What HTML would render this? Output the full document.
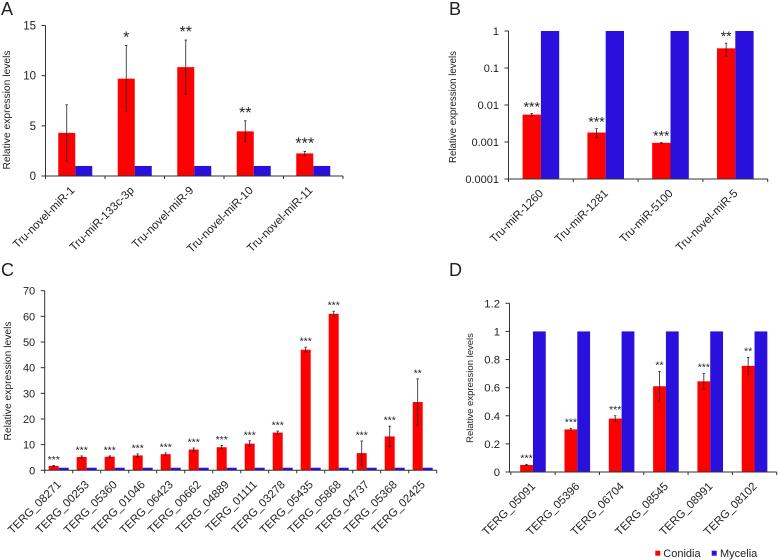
<!DOCTYPE html>
<html>
<head>
<meta charset="utf-8">
<style>
html,body{margin:0;padding:0;background:#fff;}
svg{display:block;filter:blur(0.35px);}
text{font-family:"Liberation Sans",Arial,sans-serif;fill:#222;}
</style>
</head>
<body>
<svg id="fig" width="778" height="560" viewBox="0 0 778 560" xmlns="http://www.w3.org/2000/svg">
  <rect x="0" y="0" width="778" height="560" fill="#fff"/>
  <text x="1" y="15" font-size="18">A</text>
  <text x="449" y="15" font-size="18">B</text>
  <text x="1" y="276" font-size="18">C</text>
  <text x="449" y="276" font-size="18">D</text>
  <g id="panel-a"></g>
  <g id="panel-b"></g>
  <g id="panel-c"></g>
  <g id="panel-d"></g>
  <g>
    <g>
      <rect x="655.3" y="550.7" width="5" height="5" fill="#fe0000"/>
      <text x="663.3" y="557" font-size="11">Conidia</text>
    </g>
    <g>
      <rect x="711.7" y="550.7" width="5" height="5" fill="#2a10dc"/>
      <text x="720" y="557" font-size="11">Mycelia</text>
    </g>
  </g>
</svg>
<script>
var aCategories = ["Tru-novel-miR-1","Tru-miR-133c-3p","Tru-novel-miR-9","Tru-novel-miR-10","Tru-novel-miR-11"];
var aConidia = [4.3,9.7,10.85,4.45,2.25];
var aMycelia = [1,1,1,1,1];
var aErrors = [2.8,3.3,2.7,1.05,0.2];
var aSignificance = ["","*","**","**","***"];
var aTicks = [0,5,10,15];
var aTickLabels = ["0","5","10","15"];

var bCategories = ["Tru-miR-1260","Tru-miR-1281","Tru-miR-5100","Tru-novel-miR-5"];
var bConidia = [0.0055,0.0018,0.00095,0.34];
var bMycelia = [1,1,1,1];
var bErrors = [0.0004,0.0005,0.00002,0.13];
var bSignificance = ["***","***","***","**"];
var bTicks = [0.0001,0.001,0.01,0.1,1];
var bTickLabels = ["0.0001","0.001","0.01","0.1","1"];

var cCategories = ["TERG_08271","TERG_00253","TERG_05360","TERG_01046","TERG_06423","TERG_00662","TERG_04889","TERG_01111","TERG_03278","TERG_05435","TERG_05868","TERG_04737","TERG_05368","TERG_02425"];
var cConidia = [1.7,5.2,5.3,5.8,6.3,8.1,9,10.4,14.7,47,61,6.7,13.2,26.6];
var cMycelia = [1,1,1,1,1,1,1,1,1,1,1,1,1,1];
var cErrors = [0.2,0.4,0.3,0.6,0.5,0.6,0.7,1.1,0.6,1,1,4.7,4,9];
var cSignificance = ["***","***","***","***","***","***","***","***","***","***","***","***","***","**"];
var cTicks = [0,10,20,30,40,50,60,70];
var cTickLabels = ["0","10","20","30","40","50","60","70"];

var dCategories = ["TERG_05091","TERG_05396","TERG_06704","TERG_08545","TERG_08991","TERG_08102"];
var dConidia = [0.05,0.303,0.38,0.61,0.645,0.755];
var dMycelia = [1,1,1,1,1,1];
var dErrors = [0.004,0.008,0.02,0.105,0.055,0.06];
var dSignificance = ["***","***","***","**","***","**"];
var dTicks = [0,0.2,0.4,0.6,0.8,1,1.2];
var dTickLabels = ["0","0.2","0.4","0.6","0.8","1","1.2"];

var NS = "http://www.w3.org/2000/svg";

function make(parent, tag, attrs, content) {
  var el = document.createElementNS(NS, tag);
  for (var k in attrs) { el.setAttribute(k, attrs[k]); }
  if (content !== undefined) { el.textContent = content; }
  parent.appendChild(el);
  return el;
}

function linearScale(min, max, y0, y1) {
  return function (v) { return y0 + (v - min) / (max - min) * (y1 - y0); };
}

function logScale(min, max, y0, y1) {
  return function (v) {
    return y0 + (Math.log(v) - Math.log(min)) / (Math.log(max) - Math.log(min)) * (y1 - y0);
  };
}

function drawPanel(p) {
  var g = document.getElementById(p.id);
  var n = p.categories.length;
  var step = (p.right - p.originX) / n;
  var base = p.yScale(p.ticks[0]);
  var axisColor = "#333";

  function categoryCenter(i) { return p.originX + step * (i + 0.5); }

  p.categories.forEach(function (name, i) {
    var cx = categoryCenter(i);
    var value = p.conidia[i];
    var top = p.yScale(value);
    var red = make(g, "rect", {x: cx - p.barWidth, y: top, width: p.barWidth, height: base - top, fill: "#fe0000"});
    
    

    var blueTop = p.yScale(p.mycelia[i]);
    var blue = make(g, "rect", {x: cx, y: blueTop, width: p.barWidth, height: base - blueTop, fill: "#2a10dc"});
    
    

    var ex = cx - p.barWidth / 2;
    var errTop = p.yScale(value + p.errors[i]);
    var errBottom = p.yScale(value - p.errors[i]);
    var err = make(g, "path", {
      d: "M" + (ex - 1.2) + " " + errTop + "H" + (ex + 1.2) + "M" + ex + " " + errTop + "V" + errBottom + "M" + (ex - 1.2) + " " + errBottom + "H" + (ex + 1.2),
      stroke: "#222", "stroke-width": 0.8, fill: "none"
    });
    
    

    if (p.significance[i]) {
      var star = make(g, "text", {x: ex, y: errTop + p.starOffset, "font-size": p.starSize, "text-anchor": "middle"}, p.significance[i]);
      
      
    }

    var lx = cx + p.labelDx;
    var ly = base + p.labelDy;
    var label = make(g, "text", {x: lx, y: ly, "font-size": 11.4, "text-anchor": "end", transform: "rotate(-45 " + lx + " " + ly + ")"}, name);
    
    
  });

  var yAxis = make(g, "line", {x1: p.axisX, x2: p.axisX, y1: p.yScale(p.ticks[p.ticks.length - 1]), y2: base + 0.5, stroke: axisColor, "stroke-width": 1});
  
  

  var xAxis = make(g, "line", {x1: p.axisX, x2: p.right, y1: base, y2: base, stroke: axisColor, "stroke-width": 1});
  
  

  for (var t = 0; t <= n; t++) {
    var tx = p.originX + step * t;
    var xt = make(g, "line", {x1: tx, x2: tx, y1: base, y2: base + 3, stroke: axisColor, "stroke-width": 1});
    
    
  }

  p.ticks.forEach(function (v, i) {
    var y = p.yScale(v);
    var tick = make(g, "line", {x1: p.axisX - 4, x2: p.axisX, y1: y, y2: y, stroke: axisColor, "stroke-width": 1});
    
    
    var lab = make(g, "text", {x: p.axisX - 9.5, y: y + 4, "font-size": p.tickSize, "text-anchor": "end"}, p.tickLabels[i]);
    
    
  });

  var title = make(g, "text", {x: 0, y: 0, "font-size": p.titleSize, "text-anchor": "middle", transform: "translate(" + p.titleX + " " + p.titleY + ") rotate(-90)"}, "Relative expression levels");
  
  
}

drawPanel({
  id: "panel-a", categories: aCategories, conidia: aConidia, mycelia: aMycelia, errors: aErrors,
  significance: aSignificance, ticks: aTicks, tickLabels: aTickLabels,
  yScale: linearScale(0, 15, 176, 25.5), originX: 45.5, axisX: 45.5, right: 343, barWidth: 17,
  starSize: 16, starOffset: -3, tickSize: 11.5, titleSize: 10.3, titleX: 10, titleY: 110, labelDx: 0, labelDy: 15
});
drawPanel({
  id: "panel-b", categories: bCategories, conidia: bConidia, mycelia: bMycelia, errors: bErrors,
  significance: bSignificance, ticks: bTicks, tickLabels: bTickLabels,
  yScale: logScale(0.0001, 1, 179, 31), originX: 508.5, axisX: 508.5, right: 767.7, barWidth: 18.3,
  starSize: 14, starOffset: -2, tickSize: 11, titleSize: 9.7, titleX: 456, titleY: 107, labelDx: 3, labelDy: 15
});
drawPanel({
  id: "panel-c", categories: cCategories, conidia: cConidia, mycelia: cMycelia, errors: cErrors,
  significance: cSignificance, ticks: cTicks, tickLabels: cTickLabels,
  yScale: linearScale(0, 70, 470.3, 290.7), originX: 44.7, axisX: 44.7, right: 436.7, barWidth: 10,
  starSize: 10.5, starOffset: -2.5, tickSize: 11, titleSize: 10.3, titleX: 11, titleY: 381, labelDx: 3, labelDy: 15
});
drawPanel({
  id: "panel-d", categories: dCategories, conidia: dConidia, mycelia: dMycelia, errors: dErrors,
  significance: dSignificance, ticks: dTicks, tickLabels: dTickLabels,
  yScale: linearScale(0, 1.2, 472, 303.3), originX: 510.8, axisX: 509.5, right: 776.7, barWidth: 12.8,
  starSize: 10.5, starOffset: -3, tickSize: 11.3, titleSize: 9.5, titleX: 473, titleY: 388, labelDx: 3, labelDy: 15
});
</script>
</body>
</html>
